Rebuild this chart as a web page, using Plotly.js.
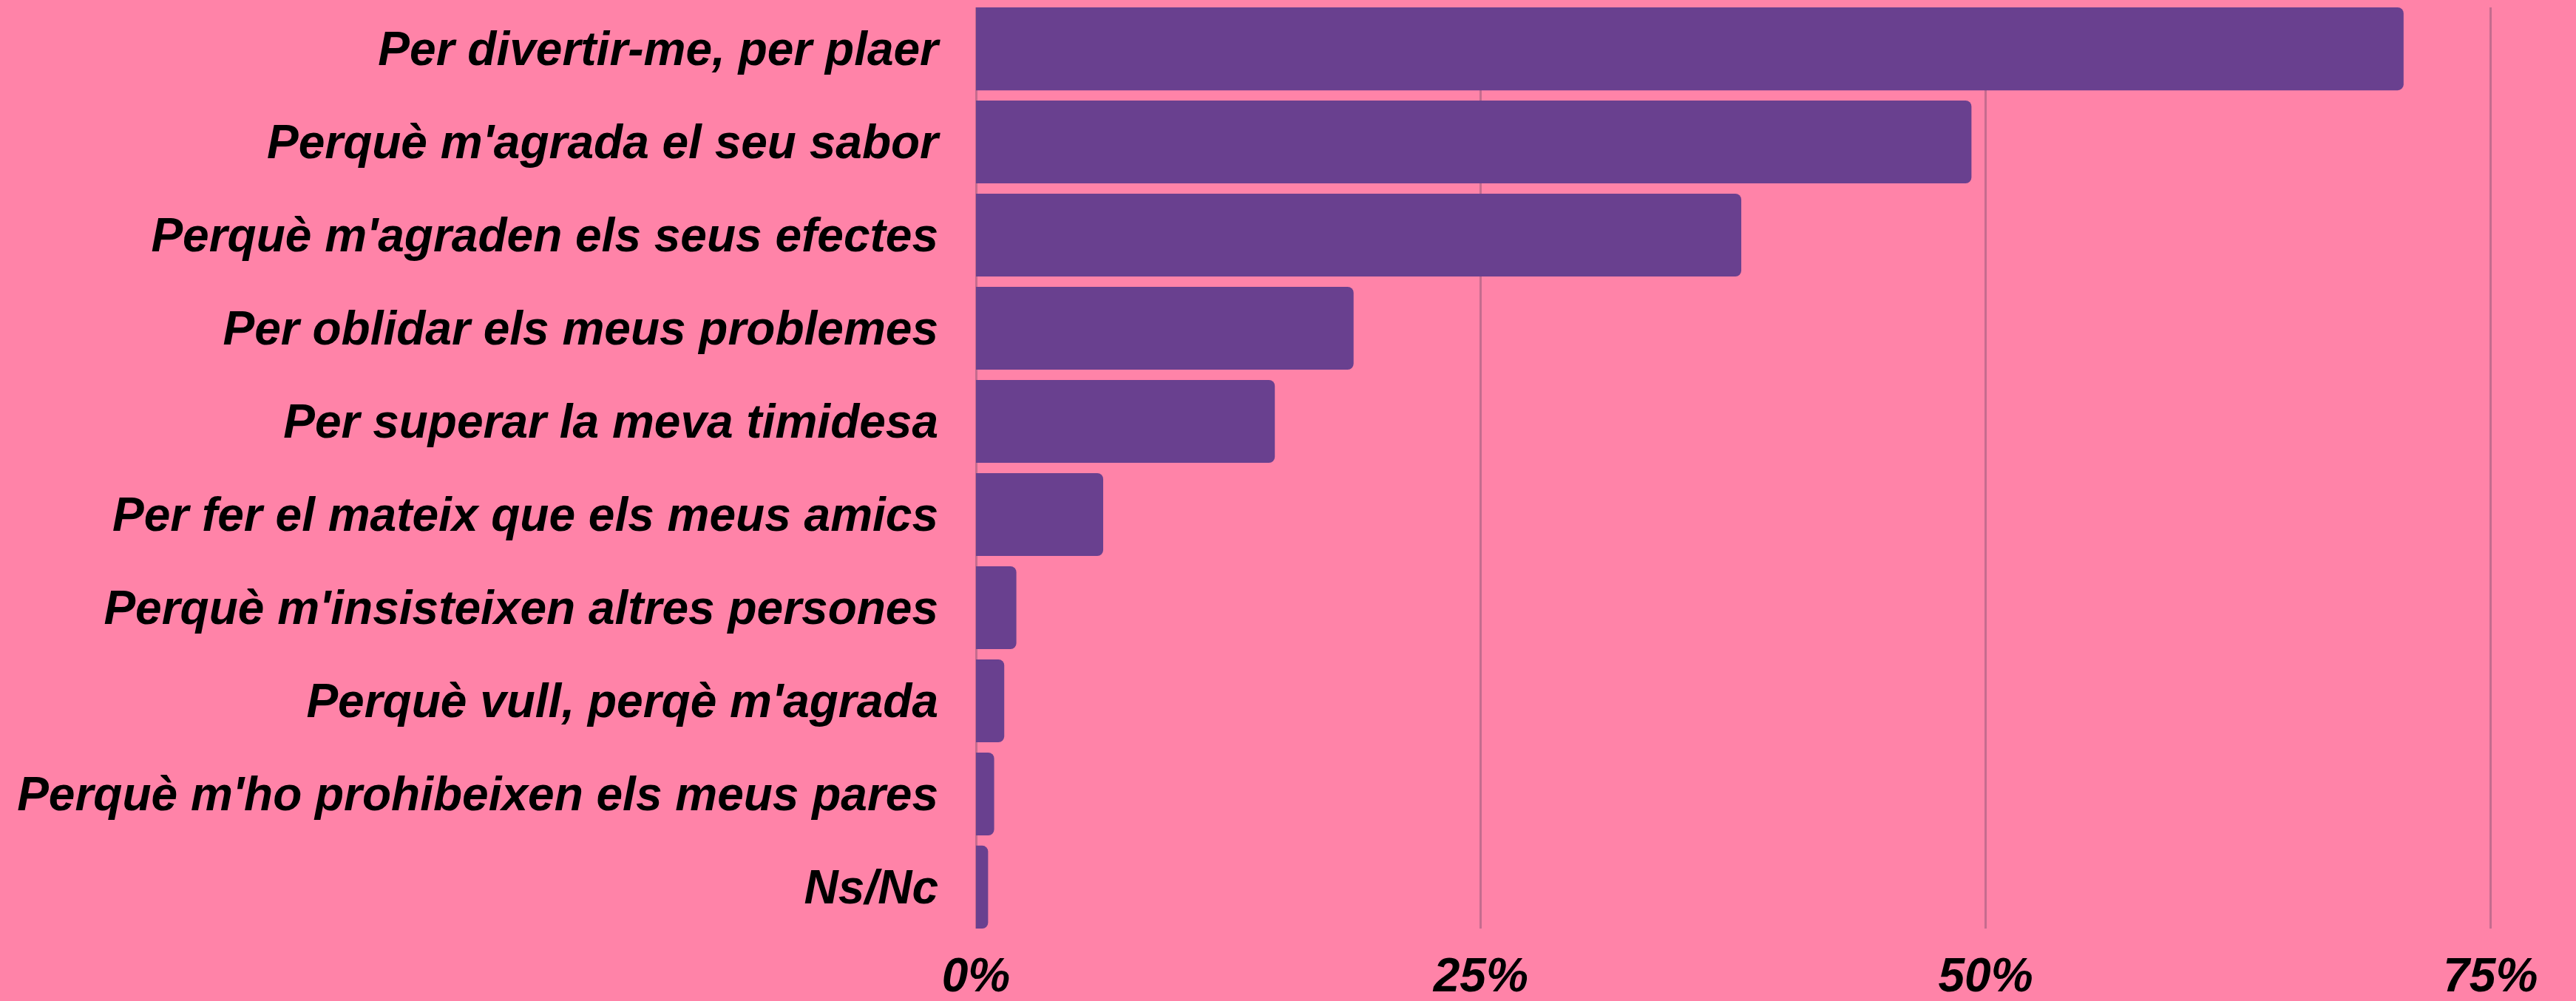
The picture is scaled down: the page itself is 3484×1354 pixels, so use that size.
<!DOCTYPE html>
<html>
<head>
<meta charset="utf-8">
<script src="https://cdn.plot.ly/plotly-3.0.1.min.js"></script>
<style>html,body{margin:0;padding:0;background:#ff83a8;}</style>
</head>
<body>
<div id="chart" style="width:3484px;height:1354px;"></div>
<script>
var categories = [
  "Per divertir-me, per plaer",
  "Perquè m'agrada el seu sabor",
  "Perquè m'agraden els seus efectes",
  "Per oblidar els meus problemes",
  "Per superar la meva timidesa",
  "Per fer el mateix que els meus amics",
  "Perquè m'insisteixen altres persones",
  "Perquè vull, perqè m'agrada",
  "Perquè m'ho prohibeixen els meus pares",
  "Ns/Nc"
];
var values = [70.7, 49.3, 37.9, 18.7, 14.8, 6.3, 2.0, 1.4, 0.9, 0.6];
var tickVals = [0, 25, 50, 75];
var tickText = ["0%", "25%", "50%", "75%"];

var font = "'Liberation Sans', Arial, sans-serif";

var trace = {
  type: 'bar',
  orientation: 'h',
  y: categories,
  x: values,
  marker: {color: '#69408f', cornerradius: 8, line: {width: 0}},
  hoverinfo: 'none'
};

var layout = {
  width: 3484,
  height: 1354,
  paper_bgcolor: '#ff83a8',
  plot_bgcolor: '#ff83a8',
  margin: {l: 1320, r: 30, t: 10, b: 98},
  bargap: 0.11,
  showlegend: false,
  font: {family: font, color: '#000000'},
  xaxis: {
    range: [0, 78.14],
    tickvals: tickVals,
    ticktext: tickText,
    showgrid: true,
    gridcolor: '#c56c8e',
    gridwidth: 3,
    zeroline: true,
    zerolinecolor: '#c56c8e',
    zerolinewidth: 3,
    showline: false,
    ticks: '',
    tickfont: {family: font, size: 64, color: '#000000', weight: 'bold', style: 'italic'},
    ticklabelstandoff: 20
  },
  yaxis: {
    type: 'category',
    categoryorder: 'array',
    categoryarray: categories,
    range: [9.445, -0.445],
    showgrid: false,
    zeroline: false,
    showline: false,
    ticks: '',
    tickfont: {family: font, size: 64, color: '#000000', weight: 'bold', style: 'italic'},
    ticklabelstandoff: 50
  }
};

Plotly.newPlot('chart', [trace], layout, {staticPlot: true, displayModeBar: false});
</script>
</body>
</html>
